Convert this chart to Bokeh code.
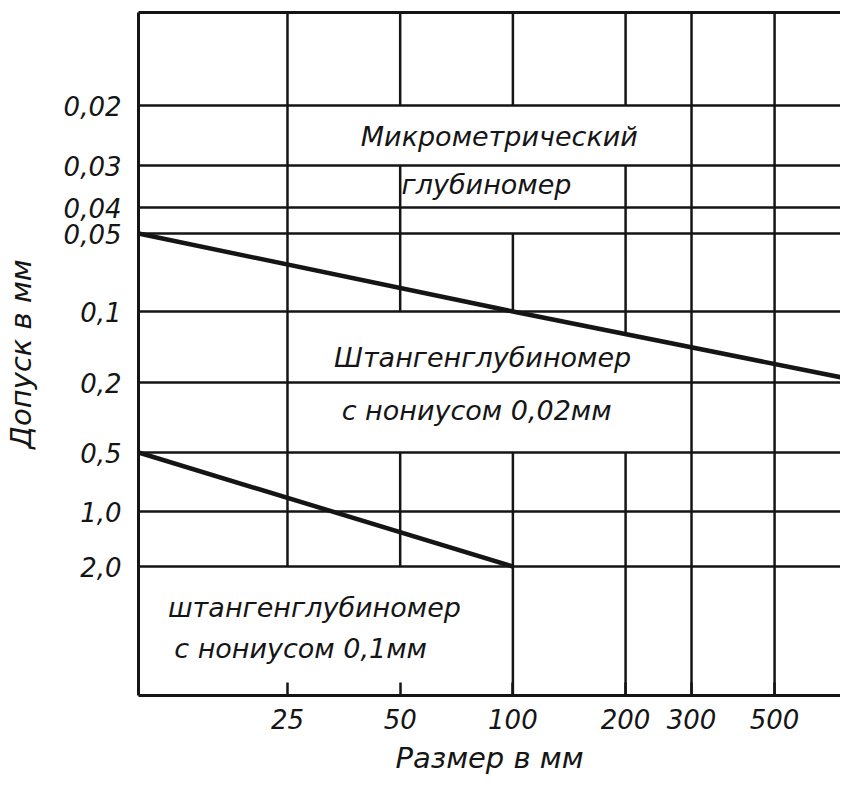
import numpy as np
from bokeh.plotting import figure
from bokeh.models import Range1d, FixedTicker, LogAxis, Label
from bokeh.embed import file_html
from bokeh.resources import INLINE

# ---------------- data ----------------
# x: measured size, mm (logarithmic)
size_ticks = [25, 50, 100, 200, 300, 500]
size_labels = ["25", "50", "100", "200", "300", "500"]
size_min, size_max = 10, 750

# y: tolerance, mm, printed on a non-uniform scale
tol_ticks = [0.02, 0.03, 0.04, 0.05, 0.1, 0.2, 0.5, 1.0, 2.0]
tol_labels = ["0,02", "0,03", "0,04", "0,05", "0,1", "0,2", "0,5", "1,0", "2,0"]
# drawn position of each tolerance on the printed (non-uniform) scale
tol_scale = [590, 530, 488, 462, 384, 313, 243, 184, 129]
scale_top = 683

# boundary: micrometric depth gauge / vernier depth gauge 0,02 mm
b002_size = [10, 100, 750]
b002_tol = [0.05, 0.1, 0.19]
# boundary: vernier depth gauge 0,02 mm / 0,1 mm
b01_size = [10, 100]
b01_tol = [0.5, 2.0]

# vertical grid lines: pieces (from tolerance, to tolerance) present in the drawing
vgrid = {
    25: [("top", 2.0)],
    50: [("top", 0.02), (0.03, 0.1), (0.5, 2.0)],
    100: [("top", 0.02), (0.05, 0.1), (0.5, "bottom")],
    200: [("top", 0.02), (0.03, "b002"), (0.5, "bottom")],
    300: [("top", "bottom")],
    500: [("top", "bottom")],
}

notes = ["Микрометрический", "глубиномер", "Штангенглубиномер",
         "с нониусом 0,02мм", "штангенглубиномер", "с нониусом 0,1мм"]

# ---------------- helpers ----------------
def ypos(t):
    return np.interp(np.log10(t), np.log10(tol_ticks), tol_scale)

def b002_at(s):
    return float(np.interp(np.log10(s), np.log10(b002_size), ypos(b002_tol)))

def resolve(v, s):
    if v == "top":
        return scale_top
    if v == "bottom":
        return 0
    if v == "b002":
        return b002_at(s)
    return float(ypos(v))

INK = "#151515"
FONT = "DejaVu Sans"

p = figure(width=840, height=785, x_axis_type="log",
           x_range=Range1d(size_min, size_max), y_range=Range1d(0, scale_top),
           output_backend="svg", toolbar_location=None,
           min_border_left=129, min_border_right=0, min_border_top=12,
           min_border_bottom=90, outline_line_color=None,
           background_fill_color="white", border_fill_color="white")

# horizontal grid (full width)
p.xgrid.visible = False
p.ygrid.ticker = FixedTicker(ticks=tol_scale)
p.ygrid.grid_line_color = INK
p.ygrid.grid_line_width = 2.5

# vertical grid pieces
x0, y0, x1, y1 = [], [], [], []
for s, pieces in vgrid.items():
    for a, b in pieces:
        x0.append(s); x1.append(s)
        y0.append(resolve(a, s)); y1.append(resolve(b, s))
p.segment(x0, y0, x1, y1, line_color=INK, line_width=2.5)

# boundary lines
p.line(b002_size, ypos(b002_tol), line_color=INK, line_width=4.5)
p.line(b01_size, ypos(b01_tol), line_color=INK, line_width=4.5)

# axes
xa = p.xaxis[0]
xa.ticker = FixedTicker(ticks=size_ticks)
xa.major_label_overrides = dict(zip(size_ticks, size_labels))
xa.major_tick_in = 13
xa.major_tick_out = 0
xa.major_tick_line_width = 2.5
xa.major_tick_line_color = INK
xa.minor_tick_line_color = None
xa.axis_line_width = 3
xa.axis_line_color = INK
xa.major_label_standoff = 13
xa.major_label_text_font = FONT
xa.major_label_text_font_style = "italic"
xa.major_label_text_font_size = "26px"
xa.major_label_text_color = INK
xa.axis_label = "Размер в мм"
xa.axis_label_standoff = 9
xa.axis_label_text_font = FONT
xa.axis_label_text_font_style = "italic"
xa.axis_label_text_font_size = "29px"
xa.axis_label_text_color = INK

ya = p.yaxis[0]
ya.ticker = FixedTicker(ticks=tol_scale)
ya.major_label_overrides = dict(zip(tol_scale, tol_labels))
ya.major_tick_in = 0
ya.major_tick_out = 0
ya.minor_tick_line_color = None
ya.axis_line_width = 3
ya.axis_line_color = INK
ya.major_label_standoff = 17
ya.major_label_text_font = FONT
ya.major_label_text_font_style = "italic"
ya.major_label_text_font_size = "26px"
ya.major_label_text_color = INK
ya.axis_label = "Допуск в мм"
ya.axis_label_standoff = 23
ya.axis_label_text_font = FONT
ya.axis_label_text_font_style = "italic"
ya.axis_label_text_font_size = "29px"
ya.axis_label_text_color = INK

top = LogAxis(ticker=FixedTicker(ticks=[]), axis_line_width=3, axis_line_color=INK,
              major_tick_in=0, major_tick_out=0, minor_tick_line_color=None,
              major_label_standoff=0, major_label_text_font_size="0px")
p.add_layout(top, "above")

# region notes (centre of each note: size, scale position)
note_pos = [
    (92, 559), (85, 511), (83, 338), (80, 285), (29.5, 88), (27.1, 47),
]
for txt, (sx, sy) in zip(notes, note_pos):
    p.add_layout(Label(x=sx, y=sy, text=txt, text_align="center",
                       text_baseline="middle", text_font=FONT,
                       text_font_style="italic", text_font_size="27px",
                       text_color=INK))

open("out.html", "w").write(file_html(p, INLINE))
